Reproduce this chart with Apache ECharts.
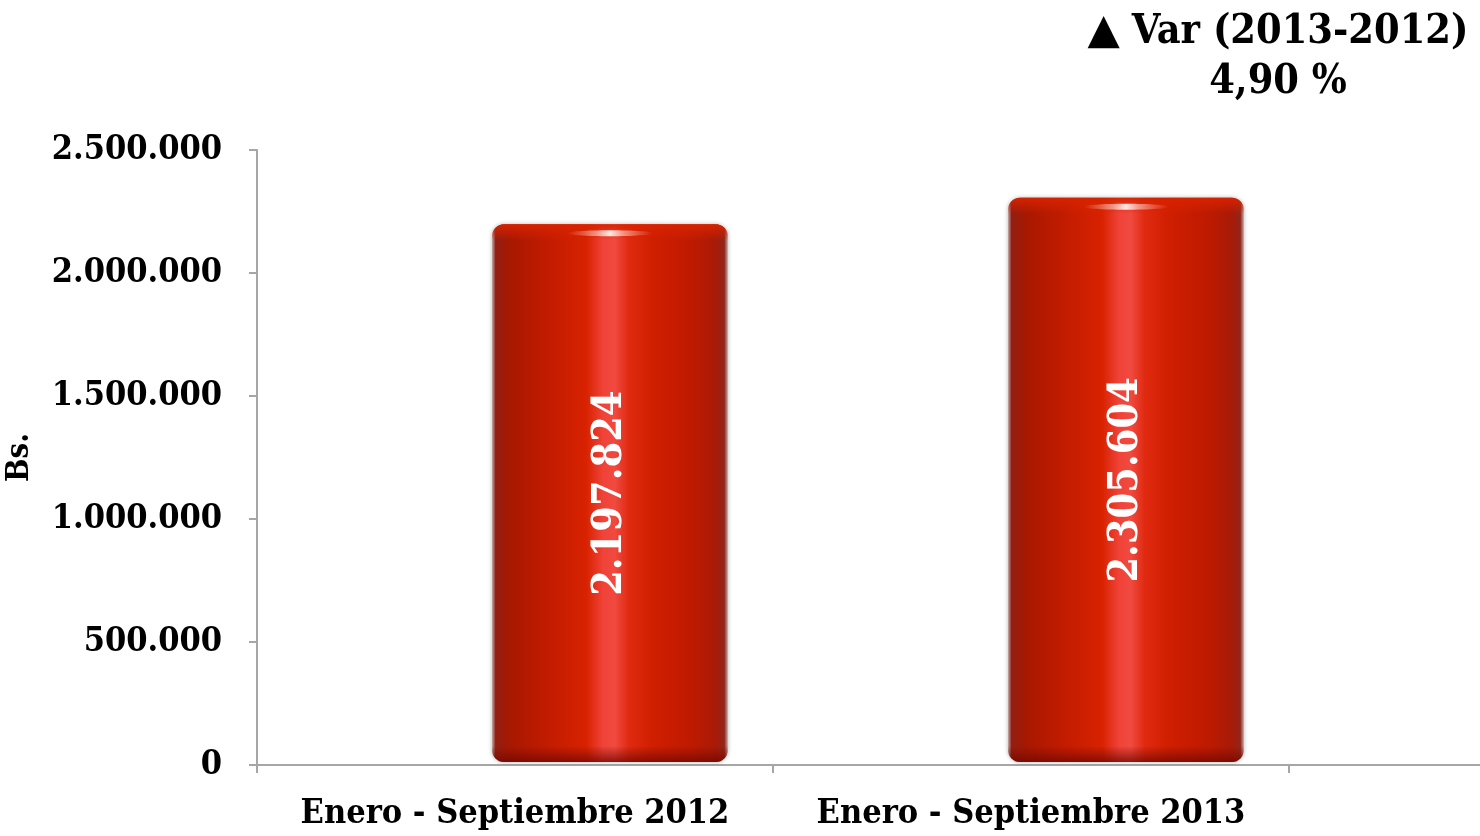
<!DOCTYPE html>
<html>
<head>
<meta charset="utf-8">
<script src="https://cdn.jsdelivr.net/npm/echarts@6/dist/echarts.min.js"></script>
<style>
html,body{margin:0;padding:0;background:#fff;}
#chart{width:1480px;height:836px;}
</style>
</head>
<body>
<div id="chart"></div>
<script>
var categories = ['Enero - Septiembre 2012', 'Enero - Septiembre 2013'];
var values = [2197824, 2305604];
var yTicks = [0, 500000, 1000000, 1500000, 2000000, 2500000];
var titleMarker = '\u25B2';
var titleLines = ['Var (2013-2012)', '4,90 %'];
var yName = 'Bs.';

var FONT = '"DejaVu Serif Condensed", "DejaVu Serif", serif';
function fmt(v){ return String(v).replace(/\B(?=(\d{3})+(?!\d))/g, '.'); }

var chart = echarts.init(document.getElementById('chart'));
var BAR_W = 0.457, BAR_OFF = 0.184;

chart.setOption({
  animation: false,
  title: {
    text: '{tri|' + titleMarker + '}{sp|}{t|' + titleLines[0] + '}\n{t|' + titleLines[1] + '}',
    left: 1273, top: 2, textAlign: 'center',
    textStyle: {
      rich: {
        tri: { fontFamily: '"DejaVu Sans"', fontSize: 42, lineHeight: 50, color: '#000' },
        sp: { width: 12, lineHeight: 50 },
        t: { fontFamily: FONT, fontWeight: 'bold', fontSize: 41, lineHeight: 50, color: '#000' }
      }
    }
  },
  grid: { left: 257, right: 191, top: 150, bottom: 71, outerBoundsMode: 'none', containLabel: false },
  xAxis: {
    type: 'category', data: categories,
    axisLine: { lineStyle: { color: '#a6a6a6', width: 2 } },
    axisTick: { show: true, interval: 0, length: 8, lineStyle: { color: '#a6a6a6', width: 2 } },
    axisLabel: { interval: 0, margin: 32, fontFamily: FONT, fontWeight: 'bold', fontSize: 34, color: '#000' }
  },
  yAxis: {
    type: 'value', min: yTicks[0], max: yTicks[yTicks.length-1], interval: yTicks[1]-yTicks[0],
    name: yName, nameLocation: 'middle', nameGap: 222, nameRotate: 90,
    nameTextStyle: { fontFamily: FONT, fontWeight: 'bold', fontSize: 31, color: '#000' },
    axisLine: { show: true, lineStyle: { color: '#a6a6a6', width: 2 } },
    axisTick: { show: true, length: 8, lineStyle: { color: '#a6a6a6', width: 2 } },
    splitLine: { show: false },
    axisLabel: { margin: 35, padding: [5, 0, 0, 0], fontFamily: FONT, fontWeight: 'bold', fontSize: 34, color: '#000', formatter: fmt }
  },
  graphic: [{
    type: 'line', shape: { x1: 1289, y1: 765, x2: 1480, y2: 765 },
    style: { stroke: '#a6a6a6', lineWidth: 2 }
  }],
  series: [{
    type: 'custom',
    data: values.map(function(v, i){ return [i, v]; }),
    encode: { x: 0, y: 1 },
    renderItem: function(params, api){
      var idx = api.value(0), val = api.value(1);
      var top = api.coord([idx, val]);
      var base = api.coord([idx, 0]);
      var band = api.size([1, 0])[0];
      var w = band * BAR_W;
      var cx = top[0] + band * BAR_OFF;
      var x = cx - w / 2, y = top[1], h = base[1] - 3 - top[1];
      var grad = new echarts.graphic.LinearGradient(0, 0, 1, 0, [
        { offset: 0, color: '#c0a8a6' },
        { offset: 0.015, color: '#921e12' },
        { offset: 0.08, color: '#a81800' },
        { offset: 0.25, color: '#c41c00' },
        { offset: 0.40, color: '#d82200' },
        { offset: 0.47, color: '#f04238' },
        { offset: 0.52, color: '#f04a40' },
        { offset: 0.58, color: '#e02a10' },
        { offset: 0.68, color: '#d01e00' },
        { offset: 0.85, color: '#be1a00' },
        { offset: 0.95, color: '#a81a08' },
        { offset: 0.985, color: '#92261a' },
        { offset: 1, color: '#c0aaa8' }
      ]);
      return {
        type: 'group',
        children: [
          { type: 'rect', shape: { x: x, y: y, width: w, height: h, r: 12 },
            style: { fill: grad, shadowBlur: 4, shadowColor: 'rgba(0,0,0,0.3)' } },
          { type: 'rect', shape: { x: x, y: y + h - 16, width: w, height: 16, r: [0, 0, 12, 12] },
            style: { fill: new echarts.graphic.LinearGradient(0, 0, 0, 1, [
              { offset: 0, color: 'rgba(120,10,0,0)' },
              { offset: 0.3, color: 'rgba(120,10,0,0.25)' },
              { offset: 1, color: 'rgba(110,5,0,0.75)' }
            ]) } },
          { type: 'rect', shape: { x: x, y: y, width: w, height: 16, r: [12, 12, 0, 0] },
            style: { fill: new echarts.graphic.LinearGradient(0, 0, 0, 1, [
              { offset: 0, color: 'rgba(215,35,0,0.95)' },
              { offset: 1, color: 'rgba(215,35,0,0)' }
            ]) } },
          { type: 'ellipse', shape: { cx: cx, cy: y + 9, rx: w * 0.18, ry: 3 },
            style: { fill: new echarts.graphic.LinearGradient(0, 0, 1, 0, [
              { offset: 0, color: 'rgba(255,200,190,0)' },
              { offset: 0.35, color: 'rgba(255,220,210,0.6)' },
              { offset: 0.5, color: 'rgba(255,240,235,0.95)' },
              { offset: 0.65, color: 'rgba(255,220,210,0.6)' },
              { offset: 1, color: 'rgba(255,200,190,0)' }
            ]) } },
          { type: 'text', x: cx, y: y + h / 2, rotation: Math.PI / 2,
            style: { text: fmt(val), fill: '#fff', align: 'center', verticalAlign: 'middle',
              font: 'bold 41px ' + FONT } }
        ]
      };
    }
  }]
});
</script>
</body>
</html>
